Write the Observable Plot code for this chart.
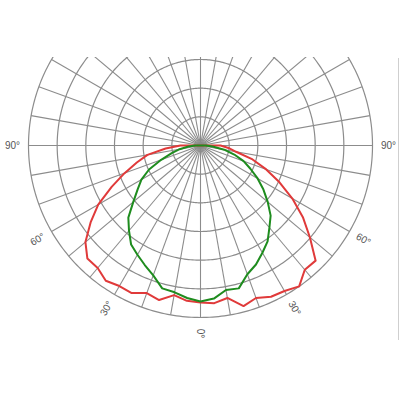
<!DOCTYPE html>
<html>
<head>
<meta charset="utf-8">
<script src="https://cdn.jsdelivr.net/npm/d3@7"></script>
<script src="https://cdn.jsdelivr.net/npm/@observablehq/plot@0.6"></script>
<style>
  html, body { margin: 0; padding: 0; background: #fff; }
  #wrap { position: relative; width: 400px; height: 400px; }
  #edge { position: absolute; left: 398px; top: 58px; height: 282px; border-left: 1px solid #cfcfcf; }
  svg { font-family: "Liberation Sans", Arial, sans-serif; }
</style>
</head>
<body>
<div id="wrap"><div id="edge"></div></div>
<script>
// Angles in degrees from nadir (negative = left half), 180 = back (zero intensity)
const angles = [-180, -90, -85, -80, -75, -70, -65, -60, -55, -50, -45, -40, -35, -30, -25, -20, -15, -10, -5,
                0, 5, 10, 15, 20, 25, 30, 35, 40, 45, 50, 55, 60, 65, 70, 75, 80, 85, 90, 180];
const redSeries = [0, 35, 61, 94, 115, 141, 171, 206, 234, 262, 279, 279, 288, 283, 284, 274, 279, 265, 272,
                   274, 276, 270, 290, 283, 291, 293, 300, 283, 284, 249, 218, 185, 152, 122, 94, 63, 49, 35, 0];
const greenSeries = [0, 9, 21, 37, 52, 73, 99, 119, 134, 153, 178, 194, 211, 220, 230, 241, 258, 260, 267,
                     272, 268, 256, 258, 239, 229, 216, 204, 187, 173, 153, 134, 115, 96, 80, 61, 42, 21, 9, 0];
const ringValues = [50, 100, 150, 200, 250, 300];
const spokeStep = 10;
const labelAngles = [-90, -60, -30, 0, 30, 60, 90];
const labelTexts = ["90°", "60°", "30°", "0°", "30°", "60°", "90°"];
const labelRadius = 328;

const maxR = 300;
const k = maxR / 172; // units per pixel
const rad = d => d * Math.PI / 180;
const px = (a, r) => r * Math.sin(rad(a));
const py = (a, r) => -r * Math.cos(rad(a));

const curve = vals => angles.map((a, i) => ({x: px(a, vals[i]), y: py(a, vals[i])}));
const redPts = curve(redSeries);
const greenPts = curve(greenSeries);

const ringPts = ringValues.flatMap(r => d3.range(0, 361, 1).map(a => ({ring: r, x: px(a, r), y: py(a, r)})));
const spokes = d3.range(0, 360, spokeStep).map(a => ({x1: 0, y1: 0, x2: px(a, maxR), y2: py(a, maxR)}));
const labels = labelAngles.map((a, i) => ({
  x: px(a, labelRadius), y: py(a, labelRadius), text: labelTexts[i],
  rotate: a < 0 ? -(90 + a) : 90 - a
}));

const chart = Plot.plot({
  width: 400,
  height: 400,
  marginTop: 57,
  marginBottom: 0,
  marginLeft: 0,
  marginRight: 0,
  x: {domain: [-200 * k, 200 * k], axis: null},
  y: {domain: [-255 * k, 88 * k], axis: null},
  marks: [
    Plot.line(ringPts, {x: "x", y: "y", z: "ring", stroke: "#8c8c8c", strokeWidth: 1.2, clip: true}),
    Plot.link(spokes, {x1: "x1", y1: "y1", x2: "x2", y2: "y2", stroke: "#8c8c8c", strokeWidth: 1.1, clip: true}),
    Plot.line(redPts, {x: "x", y: "y", stroke: "#e03a3a", strokeWidth: 2, strokeLinejoin: "round"}),
    Plot.line(greenPts, {x: "x", y: "y", stroke: "#1e8c1e", strokeWidth: 2, strokeLinejoin: "round"}),
    Plot.text(labels, {x: "x", y: "y", text: "text", rotate: "rotate", fontSize: 10, fill: "#555", textAnchor: "middle"})
  ]
});
document.getElementById("wrap").appendChild(chart);
</script>
</body>
</html>
